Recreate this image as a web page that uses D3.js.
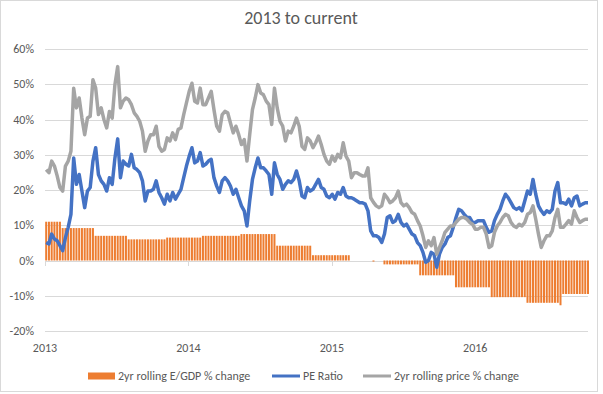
<!DOCTYPE html>
<html>
<head>
<meta charset="utf-8">
<script src="https://cdn.jsdelivr.net/npm/d3@7"></script>
<style>
  body { margin: 0; background: #fff; }
  text { font-family: Calibri, Carlito, Lato, sans-serif; fill: #595959; }
</style>
</head>
<body>
<svg id="chart" width="603" height="394"></svg>
<script>
// weekly readings, Jan 2013 to Oct 2016 (percent)
var peRatio = [
  5.1, 4.7, 7.5, 6.1, 5.6, 4.2, 2.8, 6.5, 9.4, 13.1,
  29.1, 21.6, 24.4, 19.7, 15.0, 19.7, 20.7, 28.2, 32.0, 24.4,
  22.6, 21.6, 19.7, 23.5, 21.6, 29.1, 34.5, 23.5, 28.2, 27.3,
  26.8, 30.1, 26.3, 25.8, 24.9, 22.6, 16.9, 19.7, 19.7, 20.2,
  22.6, 19.3, 17.8, 16.0, 18.8, 16.9, 19.3, 17.4, 18.8, 20.2,
  23.5, 26.8, 29.6, 32.0, 27.7, 28.2, 30.6, 26.8, 27.3, 28.2,
  28.7, 23.5, 21.1, 19.3, 22.6, 23.5, 22.6, 21.1, 18.8, 20.2,
  17.8, 15.5, 14.1, 9.8, 16.9, 23.0, 26.3, 29.1, 26.3, 26.3,
  25.4, 24.4, 18.8, 27.7, 24.4, 23.0, 20.2, 21.6, 22.6, 22.1,
  23.0, 25.4, 22.6, 18.3, 17.8, 20.7, 19.7, 20.2, 21.6, 23.0,
  20.7, 20.2, 18.3, 17.8, 18.8, 17.4, 19.3, 18.8, 20.7, 18.3,
  17.8, 17.8, 17.4, 16.9, 16.4, 16.4, 16.0, 14.1, 8.4, 7.0,
  7.0, 6.5, 5.1, 7.5, 12.2, 12.7, 10.8, 11.3, 13.1, 10.8,
  9.8, 10.3, 8.9, 7.5, 7.0, 5.1, 4.2, 2.3, -0.5, 0.0,
  2.3, 1.8, -1.9, 1.8, 3.7, 4.7, 6.5, 7.0, 9.4, 12.2,
  14.5, 14.1, 13.1, 12.2, 12.2, 10.8, 10.8, 11.3, 11.3, 11.3,
  9.4, 8.0, 8.4, 11.3, 13.1, 14.5, 16.9, 18.8, 17.8, 16.4,
  15.0, 14.5, 15.0, 14.1, 16.9, 19.7, 18.8, 23.0, 18.8, 15.5,
  14.1, 13.1, 14.1, 13.6, 14.5, 19.7, 22.1, 16.4, 16.4, 16.0,
  17.4, 15.5, 17.8, 18.3, 15.5, 16.0, 16.4, 16.4
];

var priceChange = [
  25.8, 24.9, 28.2, 26.8, 24.0, 20.7, 19.7, 26.8, 28.2, 31.0,
  48.9, 43.3, 46.1, 40.4, 35.7, 40.4, 40.9, 51.3, 48.9, 41.4,
  43.3, 40.0, 37.6, 42.3, 40.4, 49.9, 55.0, 43.3, 45.2, 46.1,
  45.6, 44.2, 41.9, 40.9, 39.5, 36.7, 31.0, 33.9, 35.7, 35.7,
  38.1, 32.4, 31.0, 31.5, 34.8, 33.9, 36.2, 34.3, 37.2, 37.6,
  41.4, 44.7, 48.0, 50.3, 45.2, 44.7, 48.9, 44.2, 44.2, 46.1,
  48.0, 42.8, 38.1, 36.7, 41.4, 42.3, 41.9, 39.0, 36.2, 38.1,
  35.7, 32.9, 34.3, 28.2, 35.7, 42.8, 46.1, 49.9, 47.5, 47.0,
  45.2, 44.2, 38.6, 48.9, 43.3, 39.5, 38.1, 33.9, 36.7, 36.2,
  38.1, 40.4, 38.1, 32.4, 31.5, 34.8, 33.9, 32.0, 33.4, 35.3,
  32.9, 30.1, 28.2, 27.3, 29.6, 28.2, 30.1, 29.1, 33.4, 29.6,
  28.2, 23.5, 24.9, 24.9, 24.4, 24.0, 24.0, 26.3, 17.8, 16.5,
  15.5, 15.0, 15.5, 18.8, 17.8, 16.4, 16.9, 17.8, 19.7, 16.4,
  15.5, 16.0, 15.0, 13.6, 13.1, 11.3, 9.8, 7.0, 3.7, 5.6,
  4.2, 6.5, 1.8, 3.7, 5.6, 8.0, 8.9, 9.8, 9.8, 10.8,
  11.7, 12.2, 12.2, 11.7, 10.8, 10.3, 8.9, 8.9, 9.4, 9.4,
  7.5, 3.7, 4.2, 8.0, 9.8, 10.8, 12.2, 13.1, 12.7, 10.8,
  9.8, 9.4, 10.3, 9.8, 10.8, 13.1, 13.6, 15.5, 11.7, 7.5,
  3.7, 5.6, 7.0, 7.0, 8.4, 12.2, 14.5, 9.4, 9.4, 10.3,
  11.3, 10.3, 14.1, 12.2, 10.8, 11.3, 11.7, 11.7
];

var egdpChange = [
  11.0, 11.0, 11.0, 11.0, 11.0, 11.0,
  9.2, 9.2, 9.2, 9.2, 9.2, 9.2, 9.2, 9.2, 9.2, 9.2, 9.2, 9.2,
  7.0, 7.0, 7.0, 7.0, 7.0, 7.0, 7.0, 7.0, 7.0, 7.0, 7.0, 7.0,
  6.0, 6.0, 6.0, 6.0, 6.0, 6.0, 6.0, 6.0, 6.0, 6.0, 6.0, 6.0, 6.0, 6.0,
  6.5, 6.5, 6.5, 6.5, 6.5, 6.5, 6.5, 6.5, 6.5, 6.5, 6.5, 6.5, 6.5,
  7.0, 7.0, 7.0, 7.0, 7.0, 7.0, 7.0, 7.0, 7.0, 7.0, 7.0, 7.0, 7.0, 7.0,
  7.5, 7.5, 7.5, 7.5, 7.5, 7.5, 7.5, 7.5, 7.5, 7.5, 7.5, 7.5, 7.5,
  4.2, 4.2, 4.2, 4.2, 4.2, 4.2, 4.2, 4.2, 4.2, 4.2, 4.2, 4.2, 4.2,
  1.5, 1.5, 1.5, 1.5, 1.5, 1.5, 1.5, 1.5, 1.5, 1.5, 1.5, 1.5, 1.5, 1.5,
  0, 0, 0, 0, 0, 0, 0, 0, -0.3, 0, 0, 0,
  -1.1, -1.1, -1.1, -1.1, -1.1, -1.1, -1.1, -1.1, -1.1, -1.1, -1.1, -1.1, -1.1,
  -4.2, -4.2, -4.2, -4.2, -4.2, -4.2, -4.2, -4.2, -4.2, -4.2, -4.2, -4.2, -4.2,
  -7.6, -7.6, -7.6, -7.6, -7.6, -7.6, -7.6, -7.6, -7.6, -7.6, -7.6, -7.6, -7.6,
  -10.4, -10.4, -10.4, -10.4, -10.4, -10.4, -10.4, -10.4, -10.4, -10.4, -10.4, -10.4, -10.4,
  -12.0, -12.0, -12.0, -12.0, -12.0, -12.0, -12.0, -12.0, -12.0, -12.0, -12.0, -12.0, -12.7,
  -9.5, -9.5, -9.5, -9.5, -9.5, -9.5, -9.5, -9.5, -9.5, -9.5
];

var yTicks = [-20, -10, 0, 10, 20, 30, 40, 50, 60];
var yearTicks = ["2013", "2014", "2015", "2016"];
var seriesNames = ["2yr rolling E/GDP % change", "PE Ratio", "2yr rolling price % change"];

// one Friday per reading
var weeks = d3.timeFriday.range(new Date(2013, 0, 4), new Date(2016, 9, 15));

var svg = d3.select("#chart");

// chart area border
svg.append("rect")
  .attr("x", 0.5).attr("y", 0.5)
  .attr("width", 597).attr("height", 391)
  .style("fill", "#fff").style("stroke", "#d9d9d9");

var x = d3.scaleTime()
  .domain([new Date(2013, 0, 1), new Date(2016, 9, 14)])
  .range([45, 588]);

var y = d3.scaleLinear()
  .domain([-20, 60])
  .range([331, 49]);

svg.append("text")
  .attr("x", 301).attr("y", 24)
  .attr("text-anchor", "middle")
  .style("font-size", "18px")
  .text("2013 to current");

// gridlines + y labels
var yAxis = svg.append("g");
yAxis.selectAll("line").data(yTicks).enter().append("line")
  .attr("x1", 45).attr("x2", 588)
  .attr("y1", function(d) { return Math.round(y(d)) + 0.5; })
  .attr("y2", function(d) { return Math.round(y(d)) + 0.5; })
  .style("stroke", "#d9d9d9").style("stroke-width", 1);

yAxis.selectAll("text").data(yTicks).enter().append("text")
  .attr("x", 34)
  .attr("y", function(d) { return y(d) + 4; })
  .attr("text-anchor", "end")
  .style("font-size", "12px")
  .text(function(d) { return d + "%"; });

// year ticks on the zero line, labels at the bottom
var years = yearTicks.map(function(t) { return new Date(+t, 0, 1); });
svg.append("g").selectAll("line").data(years).enter().append("line")
  .attr("x1", function(d) { return Math.round(x(d)) + 0.5; })
  .attr("x2", function(d) { return Math.round(x(d)) + 0.5; })
  .attr("y1", Math.round(y(0))).attr("y2", Math.round(y(0)) + 5)
  .style("stroke", "#d9d9d9");

svg.append("g").selectAll("text").data(yearTicks).enter().append("text")
  .attr("x", function(d, i) { return x(years[i]); })
  .attr("y", 352)
  .attr("text-anchor", "middle")
  .style("font-size", "12px")
  .text(function(d) { return d; });

// E/GDP bars
svg.append("g").selectAll("rect").data(egdpChange).enter().append("rect")
  .attr("x", function(d, i) { return x(weeks[i]) - 1; })
  .attr("y", function(d) { return Math.min(y(d), y(0)); })
  .attr("width", 2)
  .attr("height", function(d) { return Math.abs(y(d) - y(0)); })
  .style("fill", "#ed7d31");

var line = d3.line()
  .x(function(d, i) { return x(weeks[i]); })
  .y(function(d) { return y(d); });

svg.append("path").datum(peRatio)
  .attr("d", line)
  .style("fill", "none").style("stroke", "#4472c4")
  .style("stroke-width", 3.5).style("stroke-linejoin", "round");

svg.append("path").datum(priceChange)
  .attr("d", line)
  .style("fill", "none").style("stroke", "#a5a5a5")
  .style("stroke-width", 3.5).style("stroke-linejoin", "round");

// legend
var legend = svg.append("g").attr("transform", "translate(0,376)");
legend.append("rect")
  .attr("x", 88).attr("y", -3.5).attr("width", 27).attr("height", 7)
  .style("fill", "#ed7d31");
legend.append("line")
  .attr("x1", 272).attr("x2", 300).attr("y1", 0).attr("y2", 0)
  .style("stroke", "#4472c4").style("stroke-width", 3);
legend.append("line")
  .attr("x1", 363).attr("x2", 391).attr("y1", 0).attr("y2", 0)
  .style("stroke", "#a5a5a5").style("stroke-width", 3);

var legendX = [118, 303, 394];
legend.selectAll("text").data(seriesNames).enter().append("text")
  .attr("x", function(d, i) { return legendX[i]; })
  .attr("y", 4)
  .style("font-size", "12px")
  .text(function(d) { return d; });
</script>
</body>
</html>
